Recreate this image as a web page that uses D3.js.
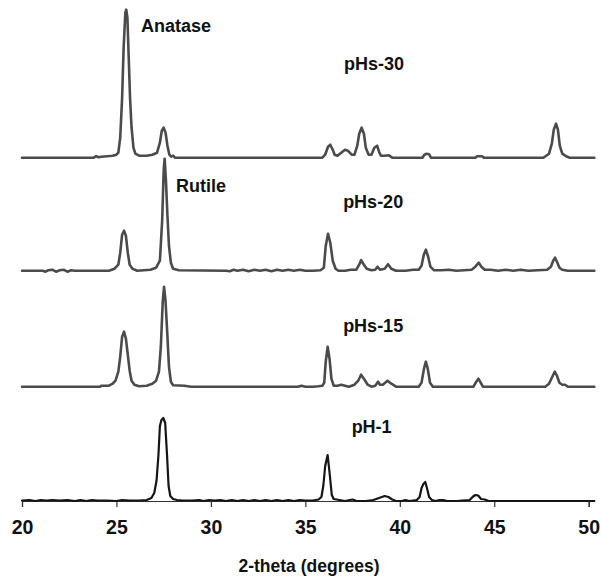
<!DOCTYPE html>
<html>
<head>
<meta charset="utf-8">
<script src="https://cdn.jsdelivr.net/npm/d3@7"></script>
<style>
  html, body { margin: 0; padding: 0; background: #fff; }
  svg { display: block; }
  text { font-family: "Liberation Sans", Arial, Helvetica, sans-serif; font-weight: bold; fill: #111; }
</style>
</head>
<body>
<div id="chart"></div>
<script>
// XRD patterns of TiO2 samples, 2-theta (degrees) vs intensity (a.u.), stacked.
const xTicks = [20, 25, 30, 35, 40, 45, 50];

// [2-theta, intensity above the trace baseline]
const pH1 = [
  [20.0,0.5],[20.4,1],[20.7,0],[21.0,1],[21.3,0.5],[21.6,1],[22.0,0.5],[22.4,1],[22.8,0],[23.1,1],
  [23.4,0],[23.7,1],[24.0,0.5],[24.5,0.5],[25.0,0],[25.3,1],[25.7,0.5],[26.2,0.5],[26.6,1],
  [26.85,3],[27.0,8],[27.12,20],[27.22,45],[27.3,75],[27.38,81],[27.48,83],[27.58,78],[27.68,45],
  [27.76,15],[27.85,5],[28.0,2],[28.2,1],[28.5,0.5],[29.0,0.5],[29.4,1],[29.6,0],[29.9,1],[30.2,0.5],
  [30.5,1],[30.8,0],[31.1,1],[31.4,0],[31.7,1],[32.0,0],[32.3,1],[32.6,0],[32.9,1],[33.2,0],
  [33.5,1],[33.8,0],[34.1,1],[34.4,0],[34.7,1],[35.0,0.5],[35.4,0.5],[35.7,1.5],[35.85,4],
  [35.95,15],[36.05,35],[36.18,46],[36.3,25],[36.4,6],[36.5,2],[36.8,1],[37.1,0],[37.5,1.5],
  [37.7,0],[38.2,0],[38.6,1],[38.9,3],[39.2,5],[39.4,4],[39.6,1.5],[39.8,0],[40.1,0],[40.3,1],
  [40.5,0],[40.9,1],[41.05,4],[41.15,13],[41.25,17],[41.35,19],[41.45,12],[41.55,4],[41.7,1],
  [41.9,0],[42.1,1],[42.3,1],[42.5,0],[43.0,0],[43.3,0.5],[43.7,1],[43.85,4],[44.0,6],[44.15,5.5],
  [44.3,2],[44.5,1.5],[44.7,0],[50.3,0]
];

const pHs15 = [
  [20.0,0],[24.15,0],[24.2,1],[24.6,1],[24.8,3],[24.95,6],[25.1,15],[25.2,30],[25.3,50],[25.4,55],
  [25.5,48],[25.6,32],[25.7,16],[25.8,6],[25.95,2],[26.2,0.5],[26.6,1],[26.9,3],[27.1,6],[27.25,15],
  [27.35,40],[27.45,85],[27.52,100],[27.6,85],[27.7,50],[27.78,20],[27.88,5],[28.0,1.5],[28.6,1],
  [28.95,0],[34.6,0],[34.8,1],[35.0,0],[35.4,0],[35.7,0.5],[35.9,1],[36.0,4],[36.08,25],[36.18,40],
  [36.28,28],[36.38,8],[36.5,1],[36.7,1],[36.9,2],[37.1,1],[37.3,0],[37.6,2],[37.8,6],[37.95,12],
  [38.1,8],[38.3,2],[38.5,0],[38.7,1],[38.85,5],[38.95,2],[39.1,2],[39.35,6],[39.55,3],[39.8,0],
  [41.0,0],[41.15,4],[41.28,18],[41.38,25],[41.48,18],[41.6,4],[41.75,0],[43.9,0],[44.05,5],[44.16,8],
  [44.28,4],[44.4,0],[47.7,0],[47.9,3],[48.05,9],[48.2,15],[48.32,11],[48.45,4],[48.6,2],[48.75,2],
  [48.9,0],[50.3,0]
];

const pHs20 = [
  [20.0,0],[21.1,0],[21.25,-1],[21.4,0.5],[21.6,1],[21.8,-1],[22.0,0.5],[22.2,1],[22.4,-1],[22.6,0.5],
  [22.8,0],[24.6,0],[24.9,2],[25.1,6],[25.2,18],[25.3,36],[25.4,40],[25.5,35],[25.6,18],[25.7,6],
  [25.85,2],[26.1,0],[26.8,1],[27.1,3],[27.3,10],[27.42,50],[27.5,100],[27.55,112],[27.62,90],
  [27.7,55],[27.78,25],[27.88,8],[28.0,2],[28.3,0.5],[30.8,0],[31.0,-0.5],[31.2,1],[31.4,0],
  [31.7,1],[32.0,-0.5],[32.3,1],[32.6,0],[32.9,1],[33.2,-0.5],[33.5,1],[33.8,0],[34.1,1],[34.4,0],
  [34.7,1],[35.0,0],[35.4,0],[35.8,0.5],[35.98,3],[36.08,25],[36.2,37],[36.32,28],[36.45,10],
  [36.6,2],[36.75,0],[37.1,0],[37.4,1],[37.7,1],[37.85,6],[37.95,10.5],[38.1,6],[38.25,2],[38.5,0.5],
  [38.7,1],[38.82,4],[38.95,1],[39.2,2],[39.38,6.5],[39.55,2],[39.8,0],[40.3,0],[40.7,1],[41.0,1],
  [41.15,5],[41.27,16],[41.38,21],[41.5,14],[41.62,4],[41.8,0.5],[42.2,0.5],[42.6,1],[43.0,0],
  [43.4,0.5],[43.8,1],[44.0,4],[44.18,8],[44.32,4],[44.5,1],[44.8,1],[45.2,0],[45.6,1],[46.0,0],
  [46.4,1],[46.8,0],[47.3,0.5],[47.8,1],[48.0,4],[48.12,10],[48.22,13],[48.32,9],[48.45,3],
  [48.6,1],[48.9,0],[50.3,0]
];

const pHs30 = [
  [20.0,0],[23.8,0],[23.93,1.5],[24.05,0.5],[24.2,1],[24.5,1.5],[24.8,2],[25.0,3],[25.1,5],[25.2,20],
  [25.3,60],[25.38,110],[25.47,145],[25.52,148],[25.58,140],[25.65,100],[25.72,60],[25.8,30],
  [25.9,10],[26.0,4],[26.2,2],[26.6,2],[26.9,3],[27.15,5],[27.3,15],[27.4,27],[27.5,30],[27.6,25],
  [27.7,12],[27.8,3],[27.9,1],[28.0,2],[28.1,0],[35.9,0],[36.05,3],[36.2,11],[36.32,13],[36.45,8],
  [36.55,3],[36.7,2],[36.9,5],[37.1,8],[37.25,7],[37.45,3],[37.6,3],[37.75,12],[37.85,24],
  [37.98,30],[38.1,24],[38.2,10],[38.35,3],[38.5,3],[38.65,10],[38.8,12],[38.9,6],[39.0,2],
  [39.2,2],[39.4,2.5],[39.6,0],[41.2,0],[41.3,3],[41.42,4],[41.55,3.5],[41.65,0],[44.0,0],[44.1,1.5],
  [44.35,1.5],[44.45,0],[47.6,0],[47.9,4],[48.05,14],[48.15,28],[48.27,34],[48.37,28],[48.47,12],
  [48.6,4],[48.8,1.5],[49.0,0],[50.3,0]
];

const seriesNames = ["pH-1", "pHs-15", "pHs-20", "pHs-30"];
const seriesData = [pH1, pHs15, pHs20, pHs30];
const seriesOffsets = [0, 114.3, 230.3, 343.3];
const seriesColors = ["#151515", "#4b4b4b", "#4b4b4b", "#4b4b4b"];
const seriesWidths = [2.2, 2.6, 2.6, 2.6];

// label positions in data units: [2-theta, intensity]
const labels = [
  {text: "pH-1",    x: 37.45, y: 68},
  {text: "pHs-15",  x: 37.0,  y: 169.5},
  {text: "pHs-20",  x: 37.0,  y: 293},
  {text: "pHs-30",  x: 37.05, y: 431},
  {text: "Anatase", x: 26.3,  y: 469},
  {text: "Rutile",  x: 28.15, y: 309.5}
];

const W = 601, H = 577;
const svg = d3.select("#chart").append("svg").attr("width", W).attr("height", H);

const x = d3.scaleLinear().domain([20, 50]).range([22, 588.7]);
const y = d3.scaleLinear().domain([0, 500]).range([501, 1]);

// x axis
const axis = d3.axisBottom(x).tickValues(xTicks).tickSize(6).tickFormat(d3.format("d"));
const gx = svg.append("g").attr("transform", `translate(0,${y(0)})`).call(axis);
gx.select(".domain").attr("stroke", "#333").attr("stroke-width", 1.2);
gx.selectAll(".tick line").attr("stroke", "#333").attr("stroke-width", 1.2);
gx.selectAll(".tick text")
  .attr("y", 19).attr("dy", "0.71em")
  .style("font-family", "'Liberation Sans', Arial, sans-serif")
  .style("font-weight", "bold").style("font-size", "19.5px").attr("fill", "#111");

svg.append("text")
  .attr("x", 309).attr("y", 572)
  .attr("text-anchor", "middle")
  .style("font-size", "17.5px")
  .text("2-theta (degrees)");

// traces
const line = d3.line()
  .x(d => x(d[0]))
  .y(d => y(d[1]));

seriesData.forEach((data, i) => {
  const off = seriesOffsets[i];
  svg.append("path")
    .datum(data.map(d => [d[0], d[1] + off]))
    .attr("fill", "none")
    .attr("stroke", seriesColors[i])
    .attr("stroke-width", seriesWidths[i])
    .attr("stroke-linejoin", "round")
    .attr("stroke-linecap", "round")
    .attr("d", line);
});

// labels
svg.selectAll("text.lbl").data(labels).enter().append("text")
  .attr("class", "lbl")
  .attr("x", d => x(d.x))
  .attr("y", d => y(d.y))
  .style("font-size", "18px")
  .text(d => d.text);
</script>
</body>
</html>
